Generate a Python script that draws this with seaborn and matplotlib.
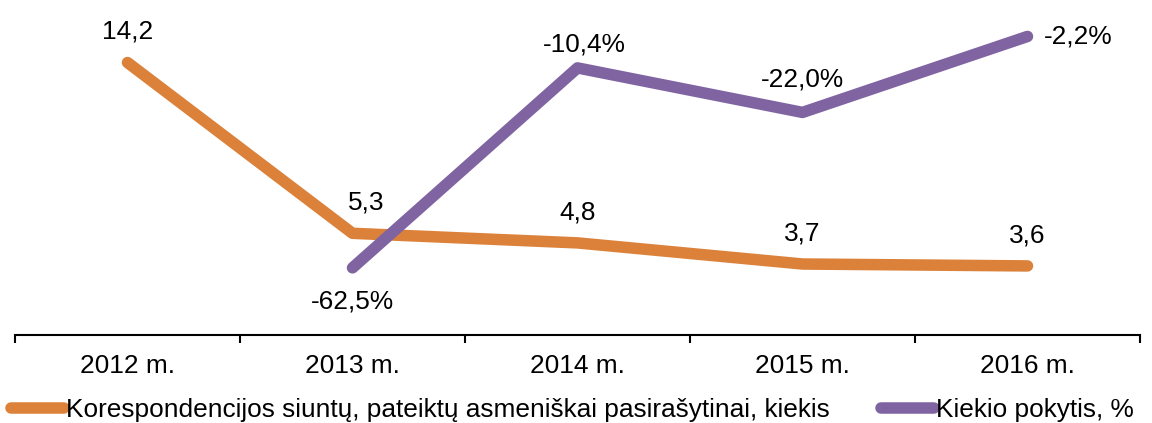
import numpy as np
import pandas as pd
import matplotlib
matplotlib.use("Agg")
import matplotlib.pyplot as plt
import seaborn as sns

years = ["2012 m.", "2013 m.", "2014 m.", "2015 m.", "2016 m."]
quantity = [14.2, 5.3, 4.8, 3.7, 3.6]
change_pct = [np.nan, -62.5, -10.4, -22.0, -2.2]
series_names = ["Korespondencijos siuntų, pateiktų asmeniškai pasirašytinai, kiekis",
                "Kiekio pokytis, %"]

ORANGE = "#DC8139"
PURPLE = "#8064A2"

sns.set_theme(style="white")
plt.rcParams["font.family"] = ["Liberation Sans", "DejaVu Sans"]
plt.rcParams["text.color"] = "black"
plt.rcParams["xtick.color"] = "black"
plt.rcParams["xtick.labelcolor"] = "black"
FS = 18.9

df = pd.DataFrame({"pos": np.arange(len(years)), "qty": quantity, "pct": change_pct})

fig = plt.figure(figsize=(11.52, 4.23), dpi=100)
ax = fig.add_axes([15 / 1152, 1 - 335 / 423, 1125 / 1152, 307 / 423])
ax2 = ax.twinx()

line_kw = dict(linewidth=8.3, solid_capstyle="round", solid_joinstyle="round")
sns.lineplot(data=df, x="pos", y="qty", ax=ax, color=ORANGE, label=series_names[0], legend=False, **line_kw)
sns.lineplot(data=df.dropna(), x="pos", y="pct", ax=ax2, color=PURPLE, label=series_names[1], legend=False, **line_kw)

ax.set_ylim(0, 16)
ax2.set_ylim(-80, 0)
ax.set_xlim(-0.5, len(years) - 0.5)

# data labels
for i, v in enumerate(quantity):
    dx = 10 if i == 1 else 0
    ax.annotate(f"{v:.1f}".replace(".", ","), (i, v), xytext=(dx, 22), textcoords="offset points",
                ha="center", va="center", fontsize=FS, color="black")
pct_offsets = {1: (0, -24, "center"), 2: (5, 17, "center"), 3: (0, 24, "center"), 4: (12, 0, "left")}
for i, v in enumerate(change_pct):
    if np.isnan(v):
        continue
    dx, dy, ha = pct_offsets[i]
    ax2.annotate(f"{v:.1f}%".replace(".", ","), (i, v), xytext=(dx, dy), textcoords="offset points",
                 ha=ha, va="center", fontsize=FS, color="black")

for a in (ax, ax2):
    for s in ("top", "left", "right"):
        a.spines[s].set_visible(False)
    a.set_yticks([])
    a.set_ylabel("")
    a.set_xlabel("")
ax2.spines["bottom"].set_visible(False)
ax.spines["bottom"].set_color("black")
ax.spines["bottom"].set_linewidth(1.5)

ax.set_xticks(np.arange(len(years)))
ax.set_xticklabels(years, fontsize=FS, color="black")
ax.set_xticks(np.arange(len(years) + 1) - 0.5, minor=True)
ax.tick_params(axis="x", which="major", length=0, pad=14)
ax.tick_params(axis="x", which="minor", length=6, width=1.5, color="black", direction="out", bottom=True)

h1, l1 = ax.get_legend_handles_labels()
h2, l2 = ax2.get_legend_handles_labels()
leg = fig.legend(h1 + h2, l1 + l2, loc="lower left", bbox_to_anchor=(-0.004, -0.035), ncol=2, frameon=False,
                 fontsize=FS, handlelength=2.0, handletextpad=0.1, columnspacing=1.95, borderaxespad=0.2)
for t in leg.get_texts():
    t.set_color("black")

fig.savefig("out.png", dpi=100)
